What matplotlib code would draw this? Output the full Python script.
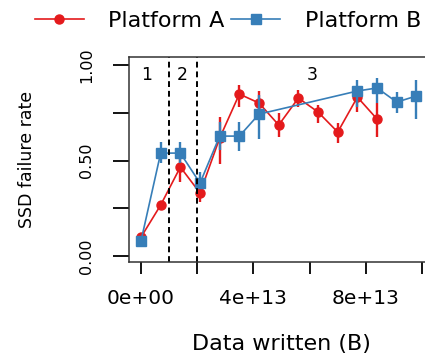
import matplotlib
matplotlib.use("Agg")
import matplotlib.pyplot as plt
import numpy as np

# Data written (bytes) for each bin
x_a = [0.0, 0.7e13, 1.4e13, 2.1e13, 2.8e13, 3.5e13, 4.2e13, 4.9e13,
       5.6e13, 6.3e13, 7.0e13, 7.7e13, 8.4e13]
rate_a = [0.099, 0.267, 0.466, 0.330, 0.618, 0.848, 0.801, 0.686,
          0.827, 0.754, 0.649, 0.832, 0.717]
low_a = [0.073, 0.246, 0.387, 0.283, 0.482, 0.780, 0.738, 0.623,
         0.780, 0.696, 0.592, 0.754, 0.623]
high_a = [0.120, 0.288, 0.518, 0.408, 0.728, 0.895, 0.864, 0.749,
          0.869, 0.791, 0.696, 0.869, 0.801]

x_b = [0.0, 0.7e13, 1.4e13, 2.1e13, 2.8e13, 3.5e13, 4.2e13,
       7.7e13, 8.4e13, 9.1e13, 9.8e13]
rate_b = [0.079, 0.539, 0.539, 0.382, 0.628, 0.628, 0.743,
          0.864, 0.880, 0.806, 0.838]
low_b = [0.063, 0.487, 0.487, 0.356, 0.555, 0.550, 0.613,
         0.780, 0.801, 0.749, 0.717]
high_b = [0.094, 0.597, 0.597, 0.440, 0.702, 0.702, 0.843,
          0.921, 0.932, 0.859, 0.921]

# region boundaries and labels
boundaries = [1e13, 2e13]
region_x = [0.21e13, 1.46e13, 6.09e13]
region_labels = ["1", "2", "3"]

x_ticks = [0, 2e13, 4e13, 6e13, 8e13, 1e14]
x_tick_labels = ["0e+00", "", "4e+13", "", "8e+13", ""]
y_ticks = [0, 0.25, 0.5, 0.75, 1.0]
y_tick_labels = ["0.00", "", "0.50", "", "1.00"]

red = "#e41a1c"
blue = "#377eb8"

plt.rcParams['font.family'] = ['DejaVu Sans']

fig = plt.figure(figsize=(4.25, 3.54), dpi=100)
# the box runs past the right edge of the picture, like the original
ax = fig.add_axes([129 / 425, 1 - 262 / 354, 304 / 425, 205 / 354])

def err(rate, low, high):
    rate = np.array(rate)
    return [rate - np.array(low), np.array(high) - rate]

# error bars first, then the lines with markers
ax.errorbar(x_a, rate_a, yerr=err(rate_a, low_a, high_a), fmt="none",
            ecolor=red, elinewidth=1.7, capsize=0)
ax.plot(x_a, rate_a, color=red, lw=1.2, marker="o", ms=6.5, label="Platform A")
ax.errorbar(x_b, rate_b, yerr=err(rate_b, low_b, high_b), fmt="none",
            ecolor=blue, elinewidth=1.7, capsize=0)
ax.plot(x_b, rate_b, color=blue, lw=1.2, marker="s", ms=7, label="Platform B")

for b in boundaries:
    ax.axvline(b, color="black", lw=1.4, linestyle=(0, (3, 2)))
for rx, rl in zip(region_x, region_labels):
    ax.text(rx, 0.948, rl, ha="center", va="center", fontsize=12.5)

ax.set_xlim(-4.27e12, 1.039e14)
ax.set_ylim(-0.031, 1.042)
ax.set_xticks(x_ticks)
ax.set_xticklabels(x_tick_labels, fontsize=14.5)
ax.set_yticks(y_ticks)
ax.set_yticklabels(y_tick_labels, fontsize=11.5, rotation=90, va="center")
ax.tick_params(axis="x", length=8.6, width=1.3, pad=11)
ax.tick_params(axis="y", length=11.5, width=1.3, pad=13.5)
for s in ax.spines.values():
    s.set_linewidth(1.1)
    s.set_color("#333333")

ax.set_ylabel("SSD failure rate", fontsize=12.5, va="center")
ax.yaxis.set_label_coords(-0.3355, 0.5)
ax.set_xlabel("Data written (B)", fontsize=16, va="center")
ax.xaxis.set_label_coords(0.5, -0.4)

fig.legend(loc="center left", bbox_to_anchor=(35 / 425, 1 - 21 / 354), ncol=2,
           frameon=False, borderpad=0, borderaxespad=0, handlelength=2.2,
           handletextpad=1.1, columnspacing=0.3, fontsize=16)

fig.savefig("out.png", dpi=100)
